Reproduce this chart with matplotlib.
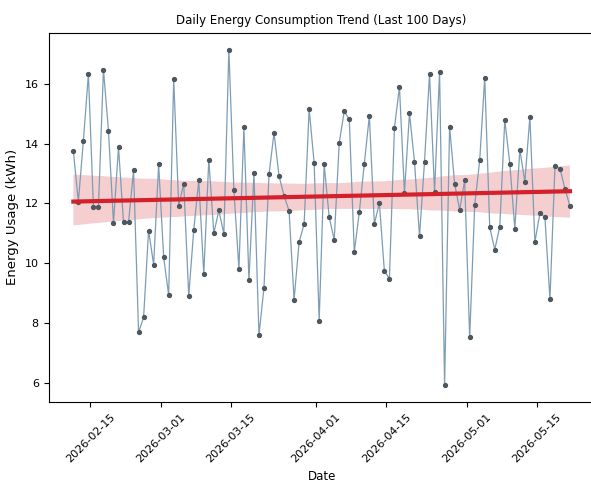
import numpy as np
import pandas as pd
import matplotlib
matplotlib.use("Agg")
import matplotlib.pyplot as plt
import matplotlib.dates as mdates
import seaborn as sns

# daily readings, kWh
usage = [13.75, 12.05, 14.10, 16.32, 11.88, 11.87, 16.48, 14.43, 11.34, 13.88,
         11.36, 11.36, 13.10, 7.68, 8.18, 11.09, 9.95, 13.30, 10.20, 8.92,
         16.17, 11.92, 12.66, 8.90, 11.11, 12.77, 9.62, 13.46, 11.00, 11.76,
         10.98, 17.15, 12.44, 9.81, 14.54, 9.43, 13.00, 7.59, 9.18, 12.97,
         14.36, 12.92, 12.25, 11.75, 8.77, 10.70, 11.31, 15.16, 13.35, 8.07,
         13.30, 11.53, 10.78, 14.03, 15.08, 14.82, 10.37, 11.70, 13.33, 14.93,
         11.31, 12.01, 9.73, 9.48, 14.52, 15.90, 12.35, 15.01, 13.40, 10.89,
         13.40, 16.34, 12.39, 16.41, 5.91, 14.57, 12.66, 11.78, 12.77, 7.51,
         11.94, 13.44, 16.21, 11.20, 10.45, 11.22, 14.79, 13.33, 11.15, 13.79,
         12.72, 14.90, 10.70, 11.67, 11.53, 8.79, 13.24, 13.16, 12.48, 11.90]
dates = pd.date_range("2026-02-11 14:00", periods=len(usage), freq="D")

fig = plt.figure(figsize=(5.91, 5.01), dpi=100)
ax = fig.add_axes([0.0821, 0.1976, 0.9244, 0.7371])

ax.plot(dates, usage, color='#7c9db5', lw=0.9, marker='o', ms=2.8,
        mfc='#4f575e', mec='#4f575e')

xnum = mdates.date2num(dates)
sns.regplot(x=xnum, y=np.array(usage), ax=ax, scatter=False, color='red',
            line_kws={'lw': 3, 'color': '#d3202a'}, seed=1)
for c in ax.collections:
    c.set_alpha(0.22)

ax.xaxis.set_major_locator(mdates.AutoDateLocator())
ax.xaxis.set_major_formatter(mdates.DateFormatter('%Y-%m-%d'))
plt.setp(ax.get_xticklabels(), rotation=45, fontsize=8)
plt.setp(ax.get_yticklabels(), fontsize=8)
ax.set_title("Daily Energy Consumption Trend (Last 100 Days)", fontsize=8.5)
ax.set_xlabel("Date", fontsize=8.5)
ax.set_ylabel("Energy Usage (kWh)", fontsize=9.5)

fig.savefig("out.png", dpi=100)
